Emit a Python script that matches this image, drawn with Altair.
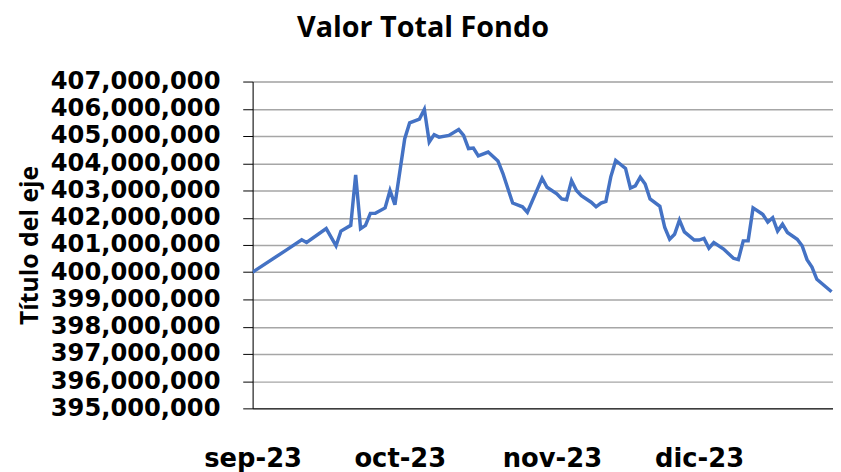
import altair as alt
import pandas as pd

dates = [
    "2023-09-01", "2023-09-08", "2023-09-11", "2023-09-12", "2023-09-16", "2023-09-18",
    "2023-09-19", "2023-09-21", "2023-09-22", "2023-09-23", "2023-09-24", "2023-09-25",
    "2023-09-26", "2023-09-28", "2023-09-29", "2023-09-30", "2023-10-02", "2023-10-03",
    "2023-10-05", "2023-10-06", "2023-10-07", "2023-10-08", "2023-10-09", "2023-10-11",
    "2023-10-13", "2023-10-14", "2023-10-15", "2023-10-16", "2023-10-17", "2023-10-19",
    "2023-10-21", "2023-10-22", "2023-10-24", "2023-10-26", "2023-10-27", "2023-10-29",
    "2023-10-30", "2023-10-31", "2023-11-02", "2023-11-03", "2023-11-04", "2023-11-05",
    "2023-11-06", "2023-11-07", "2023-11-09", "2023-11-10", "2023-11-11", "2023-11-12",
    "2023-11-13", "2023-11-14", "2023-11-16", "2023-11-17", "2023-11-18", "2023-11-19",
    "2023-11-20", "2023-11-21", "2023-11-23", "2023-11-24", "2023-11-25", "2023-11-26",
    "2023-11-27", "2023-11-28", "2023-11-30", "2023-12-01", "2023-12-02", "2023-12-03",
    "2023-12-04", "2023-12-06", "2023-12-08", "2023-12-09", "2023-12-10", "2023-12-11",
    "2023-12-12", "2023-12-14", "2023-12-15", "2023-12-16", "2023-12-17", "2023-12-18",
    "2023-12-19", "2023-12-21", "2023-12-22", "2023-12-23", "2023-12-24", "2023-12-25",
    "2023-12-28",
]

valor_millones = [
    400.00, 400.83, 401.19, 401.09, 401.60, 400.97,
    401.51, 401.72, 403.57, 401.60, 401.72, 402.16,
    402.16, 402.36, 403.00, 402.48, 404.90, 405.48,
    405.62, 405.98, 404.78, 405.05, 404.96, 405.02,
    405.24, 405.02, 404.54, 404.56, 404.27, 404.41,
    404.08, 403.63, 402.54, 402.40, 402.20, 403.03,
    403.45, 403.12, 402.88, 402.69, 402.66, 403.36,
    403.00, 402.81, 402.57, 402.40, 402.54, 402.60,
    403.50, 404.10, 403.81, 403.09, 403.17, 403.49,
    403.24, 402.69, 402.42, 401.64, 401.21, 401.39,
    401.91, 401.48, 401.18, 401.18, 401.24, 400.88,
    401.09, 400.85, 400.51, 400.46, 401.15, 401.15,
    402.36, 402.12, 401.84, 402.00, 401.51, 401.76,
    401.46, 401.21, 400.97, 400.46, 400.19, 399.74,
    399.28,
]

y_ticks = [395e6, 396e6, 397e6, 398e6, 399e6, 400e6, 401e6, 402e6, 403e6, 404e6, 405e6, 406e6, 407e6]
month_ticks = [(2023, 9), (2023, 10), (2023, 11), (2023, 12)]
meses = ["ene", "feb", "mar", "abr", "may", "jun", "jul", "ago", "sep", "oct", "nov", "dic"]

df = pd.DataFrame({"fecha": dates, "valor": [v * 1e6 for v in valor_millones]})

label_expr = "[" + ",".join(f"'{m}'" for m in meses) + "][utcmonth(datum.value)] + '-' + utcFormat(datum.value, '%y')"

x_axis = alt.Axis(
    values=[alt.DateTime(year=y, month=m, date=1, utc=True) for y, m in month_ticks],
    labelExpr=label_expr,
    grid=False,
    ticks=False,
    tickSize=0,
    domainColor="#000000",
    domainWidth=1,
    labelFont="DejaVu Sans",
    labelFontWeight="bold",
    labelFontSize=26,
    labelColor="#000000",
    labelBaseline="alphabetic",
    labelPadding=59,
    labelFlush=False,
    labelOverlap=False,
    title=None,
)

y_axis = alt.Axis(
    values=y_ticks,
    format=",d",
    grid=True,
    gridColor="#a6a6a6",
    gridWidth=1.5,
    ticks=True,
    tickSize=10,
    tickColor="#000000",
    domainColor="#000000",
    domainWidth=1,
    labelFont="DejaVu Sans",
    labelFontWeight="bold",
    labelFontSize=24.4,
    labelColor="#000000",
    labelPadding=23,
    labelBaseline="middle",
    title="Título del eje",
    titleFont="Open Sans",
    titleFontWeight="bold",
    titleFontSize=25,
    titleColor="#000000",
    titleAngle=270,
    titleAlign="center",
    titleBaseline="alphabetic",
    titleX=-217,
    titleY=165,
)

chart = (
    alt.Chart(df)
    .mark_line(color="#4472C4", strokeWidth=3.5, clip=True)
    .encode(
        x=alt.X(
            "fecha:T",
            axis=x_axis,
            scale=alt.Scale(
                type="utc",
                domain=[
                    alt.DateTime(year=2023, month=9, date=1, utc=True),
                    alt.DateTime(year=2023, month=12, date=28, hours=7, utc=True),
                ],
                nice=False,
            ),
        ),
        y=alt.Y(
            "valor:Q",
            axis=y_axis,
            scale=alt.Scale(domain=[395e6, 407e6], nice=False, zero=False),
        ),
    )
    .properties(
        width=586,
        height=330,
        title=alt.TitleParams(
            "Valor Total Fondo",
            font="Open Sans",
            fontWeight="bold",
            fontSize=29,
            color="#000000",
            anchor="middle",
            frame="group",
            dx=-121,
            offset=26,
        ),
        autosize=alt.AutoSizeParams(type="none"),
        padding={"left": 247, "top": 72, "right": 0, "bottom": 62},
    )
    .configure_view(stroke=None)
    .configure(background="#ffffff")
)

chart.save("out.html", embed_options={"renderer": "svg", "actions": False})
